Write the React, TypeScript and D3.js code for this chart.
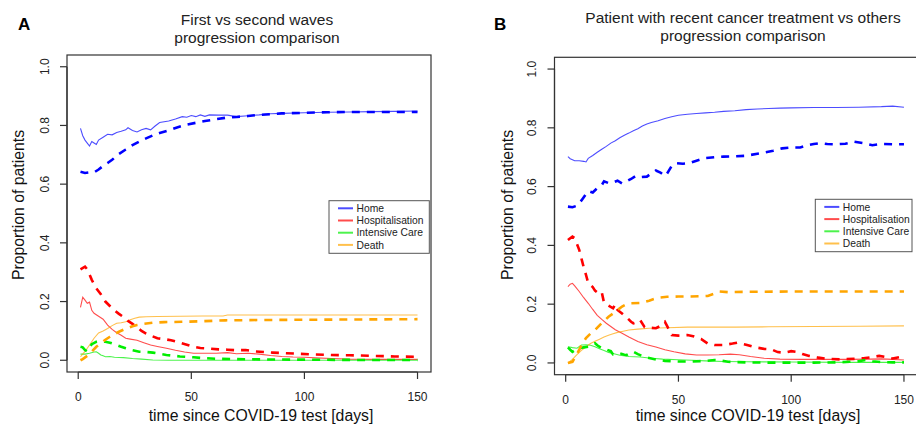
import React from 'react';
import { scaleLinear, line } from 'd3';

type Pt = [number, number];

// ---- data (day, proportion) ----
const xTicks = [0, 50, 100, 150];
const yTicks = [0, 0.2, 0.4, 0.6, 0.8, 1.0];
const legendLabels = ['Home', 'Hospitalisation', 'Intensive Care', 'Death'];
const seriesColors = ['#0000ff', '#ff0000', '#00ee00', '#ffa500'];

// panel A
const aHomeSolid: Pt[] = [[1,0.79],[2,0.765],[3,0.75],[4,0.74],[5,0.73],[6,0.745],[7,0.74],[8,0.735],[9,0.75],[11,0.76],[13,0.77],[15,0.768],[17,0.776],[19,0.78],[21,0.785],[22,0.792],[24,0.783],[26,0.778],[28,0.785],[30,0.79],[32,0.785],[34,0.798],[36,0.81],[40,0.815],[43,0.822],[46,0.83],[48,0.828],[50,0.834],[52,0.83],[54,0.836],[56,0.831],[58,0.836],[62,0.835],[66,0.835],[70,0.83],[75,0.833],[80,0.836],[85,0.84],[90,0.841],[100,0.843],[110,0.845],[120,0.846],[130,0.847],[140,0.848],[150,0.849]];
const aHomeDashed: Pt[] = [[1,0.642],[3,0.638],[5,0.64],[7,0.64],[9,0.65],[11,0.662],[13,0.672],[15,0.683],[18,0.703],[21,0.718],[24,0.733],[27,0.745],[30,0.756],[33,0.766],[36,0.774],[40,0.783],[44,0.794],[48,0.803],[52,0.809],[56,0.815],[60,0.82],[65,0.826],[70,0.829],[75,0.832],[80,0.836],[90,0.841],[100,0.843],[110,0.845],[120,0.846],[135,0.846],[150,0.846]];
const aHospSolid: Pt[] = [[1,0.18],[2,0.215],[3,0.205],[4,0.194],[5,0.198],[6,0.17],[7,0.16],[9,0.15],[11,0.14],[13,0.12],[15,0.105],[17,0.094],[19,0.085],[21,0.075],[23,0.072],[26,0.068],[29,0.06],[32,0.052],[35,0.047],[39,0.041],[43,0.034],[47,0.028],[51,0.024],[56,0.024],[61,0.024],[66,0.026],[70,0.022],[75,0.024],[80,0.021],[85,0.016],[90,0.013],[95,0.011],[100,0.01],[105,0.008],[112,0.006],[120,0.004],[135,0.003],[150,0.003]];
const aHospDashed: Pt[] = [[1,0.31],[3,0.319],[4,0.31],[6,0.274],[8,0.245],[10,0.225],[12,0.2],[14,0.185],[16,0.17],[18,0.158],[20,0.147],[22,0.134],[24,0.124],[26,0.113],[28,0.1],[30,0.091],[32,0.084],[35,0.075],[38,0.072],[41,0.068],[45,0.06],[48,0.053],[51,0.046],[54,0.042],[58,0.04],[62,0.037],[66,0.036],[70,0.034],[74,0.035],[78,0.03],[82,0.028],[86,0.026],[92,0.024],[98,0.022],[104,0.02],[112,0.018],[120,0.017],[130,0.015],[140,0.013],[150,0.012]];
const aIcuSolid: Pt[] = [[1,0.021],[3,0.021],[5,0.024],[7,0.028],[8,0.029],[9,0.024],[10,0.018],[11,0.015],[12,0.012],[14,0.013],[16,0.01],[20,0.009],[24,0.006],[28,0.004],[33,0.001],[40,0],[60,0],[100,0],[150,0]];
const aIcuDashed: Pt[] = [[1,0.046],[2,0.044],[3,0.035],[4,0.03],[5,0.042],[6,0.055],[8,0.063],[10,0.065],[12,0.063],[14,0.06],[17,0.052],[19,0.046],[21,0.041],[24,0.034],[27,0.029],[30,0.028],[33,0.026],[36,0.022],[39,0.018],[45,0.013],[51,0.01],[56,0.007],[61,0.005],[70,0.004],[80,0.003],[100,0.002],[125,0.001],[150,0.001]];
const aDeathSolid: Pt[] = [[1,0.012],[3,0.03],[5,0.052],[7,0.075],[9,0.093],[11,0.1],[13,0.108],[15,0.118],[17,0.126],[19,0.128],[21,0.131],[23,0.138],[25,0.143],[27,0.147],[30,0.148],[35,0.149],[45,0.15],[55,0.151],[64,0.151],[66,0.154],[80,0.154],[100,0.154],[125,0.154],[150,0.154]];
const aDeathDashed: Pt[] = [[1,0],[2,0.004],[4,0.015],[6,0.03],[8,0.046],[10,0.058],[12,0.07],[14,0.08],[16,0.089],[18,0.097],[20,0.104],[22,0.11],[24,0.116],[26,0.12],[29,0.124],[33,0.128],[38,0.13],[46,0.131],[55,0.133],[65,0.136],[80,0.137],[100,0.138],[125,0.139],[150,0.14]];

// panel B
const bHomeSolid: Pt[] = [[1,0.702],[2,0.695],[4,0.688],[6,0.688],[8,0.686],[9,0.684],[10,0.696],[12,0.706],[14,0.717],[16,0.727],[18,0.737],[20,0.748],[22,0.756],[24,0.766],[26,0.775],[28,0.782],[30,0.79],[32,0.797],[34,0.806],[36,0.813],[38,0.818],[41,0.824],[44,0.832],[47,0.838],[50,0.843],[54,0.846],[58,0.849],[62,0.851],[66,0.853],[70,0.856],[75,0.858],[80,0.862],[85,0.864],[90,0.866],[95,0.867],[100,0.868],[110,0.869],[120,0.869],[130,0.87],[140,0.872],[145,0.874],[150,0.87]];
const bHomeDashed: Pt[] = [[1,0.532],[3,0.53],[5,0.535],[7,0.553],[9,0.575],[10,0.585],[12,0.58],[14,0.595],[16,0.605],[17,0.618],[19,0.612],[21,0.614],[23,0.62],[25,0.611],[27,0.618],[29,0.626],[31,0.636],[33,0.632],[36,0.634],[38,0.645],[40,0.655],[42,0.648],[44,0.636],[45,0.645],[47,0.67],[49,0.68],[52,0.678],[55,0.68],[58,0.688],[62,0.697],[66,0.7],[70,0.702],[75,0.703],[80,0.705],[85,0.712],[88,0.716],[92,0.722],[96,0.73],[100,0.733],[104,0.733],[107,0.74],[110,0.745],[113,0.748],[116,0.745],[120,0.744],[124,0.746],[128,0.753],[132,0.748],[136,0.741],[140,0.745],[145,0.744],[150,0.744]];
const bHospSolid: Pt[] = [[1,0.26],[2,0.268],[3,0.271],[4,0.262],[6,0.243],[8,0.222],[10,0.203],[12,0.182],[14,0.162],[16,0.148],[18,0.135],[20,0.124],[22,0.113],[25,0.101],[28,0.088],[32,0.073],[36,0.062],[40,0.054],[44,0.045],[48,0.038],[53,0.031],[58,0.027],[63,0.027],[68,0.028],[73,0.03],[77,0.028],[82,0.022],[88,0.016],[95,0.013],[105,0.012],[115,0.012],[125,0.012],[135,0.013],[140,0.014],[145,0.012],[150,0.01]];
const bHospDashed: Pt[] = [[1,0.418],[3,0.43],[4,0.425],[5,0.405],[6,0.385],[7,0.355],[8,0.325],[9,0.3],[10,0.271],[12,0.258],[13,0.246],[14,0.24],[15,0.235],[16,0.24],[17,0.205],[19,0.195],[21,0.186],[22,0.2],[23,0.18],[25,0.168],[27,0.155],[29,0.14],[30,0.135],[32,0.14],[33,0.146],[35,0.122],[37,0.12],[40,0.118],[42,0.126],[44,0.14],[45,0.125],[47,0.095],[50,0.093],[54,0.095],[57,0.09],[60,0.082],[63,0.066],[66,0.061],[70,0.061],[74,0.066],[76,0.069],[80,0.062],[84,0.053],[88,0.048],[91,0.047],[94,0.037],[97,0.035],[100,0.04],[102,0.038],[105,0.03],[108,0.024],[112,0.018],[116,0.014],[122,0.012],[128,0.014],[132,0.016],[136,0.02],[139,0.024],[142,0.02],[145,0.015],[148,0.02],[150,0.024]];
const bIcuSolid: Pt[] = [[1,0.055],[3,0.052],[5,0.05],[7,0.061],[9,0.062],[11,0.06],[13,0.055],[15,0.048],[17,0.042],[19,0.036],[21,0.032],[24,0.026],[28,0.022],[33,0.02],[38,0.016],[43,0.013],[50,0.011],[56,0.009],[62,0.007],[70,0.005],[80,0.004],[100,0.003],[125,0.002],[150,0.002]];
const bIcuDashed: Pt[] = [[1,0.053],[2,0.045],[3,0.038],[4,0.043],[6,0.05],[8,0.053],[10,0.055],[12,0.064],[13,0.067],[14,0.06],[16,0.05],[18,0.046],[20,0.04],[21,0.029],[23,0.03],[24,0.033],[26,0.028],[27,0.027],[29,0.035],[30,0.038],[32,0.03],[35,0.02],[40,0.012],[44,0.007],[50,0.005],[56,0.005],[62,0.007],[66,0.01],[68,0.009],[72,0.004],[80,0.002],[90,0.001],[100,0.001],[110,0.001],[120,0.002],[126,0.004],[130,0.006],[133,0.01],[136,0.006],[140,0.003],[145,0.002],[150,0.002]];
const bDeathSolid: Pt[] = [[1,0],[3,0.012],[5,0.028],[7,0.043],[9,0.055],[11,0.066],[13,0.074],[15,0.081],[17,0.088],[19,0.094],[21,0.099],[23,0.104],[25,0.107],[28,0.112],[32,0.115],[37,0.118],[45,0.12],[54,0.122],[65,0.122],[75,0.122],[90,0.123],[110,0.124],[130,0.125],[150,0.126]];
const bDeathDashed: Pt[] = [[1,0],[3,0.004],[5,0.03],[7,0.06],[9,0.085],[11,0.1],[13,0.112],[15,0.128],[17,0.143],[19,0.157],[21,0.168],[23,0.18],[25,0.192],[27,0.2],[29,0.203],[33,0.204],[37,0.212],[41,0.222],[45,0.225],[50,0.226],[55,0.226],[60,0.227],[63,0.228],[66,0.236],[68,0.243],[72,0.241],[80,0.242],[100,0.243],[125,0.243],[150,0.243]];

const FONT = "'Liberation Sans', Arial, Helvetica, sans-serif";

type PanelProps = {
  letter: string;
  letterX: number;
  title: string[];
  titleX: number;
  titleY: number[];
  box: { left: number; top: number; right: number; bottom: number };
  ylabX: number;
  tickLabX: number;
  legend: { x: number; y: number; w: number; h: number };
  solid: Pt[][];
  dashed: Pt[][];
  xlabX: number;
};

function Panel(p: PanelProps) {
  const { box } = p;
  const x = scaleLinear().domain([1 - 149 * 0.04, 150 + 149 * 0.04]).range([box.left, box.right]);
  const y = scaleLinear().domain([-0.04, 1.04]).range([box.bottom, box.top]);
  const path = line<Pt>().x(d => x(d[0])).y(d => y(d[1]));
  const tick = 7;
  const ink = '#333';

  return (
    <g fontFamily={FONT}>
      <text x={p.letterX} y={30} fontSize={17} fontWeight="bold" fill="#000">{p.letter}</text>
      {p.title.map((t, i) => (
        <text key={i} x={p.titleX} y={p.titleY[i]} fontSize={15.5} textAnchor="middle" fill="#222">{t}</text>
      ))}

      {/* data */}
      {p.solid.map((s, i) => (
        <path key={'s' + i} d={path(s) || ''} fill="none" stroke={seriesColors[i]} strokeOpacity={0.7} strokeWidth={1.1} />
      ))}
      {p.dashed.map((s, i) => (
        <path key={'d' + i} d={path(s) || ''} fill="none" stroke={seriesColors[i]} strokeWidth={2.6} strokeDasharray="8,7" />
      ))}

      {/* box */}
      <rect x={box.left} y={box.top} width={box.right - box.left} height={box.bottom - box.top} fill="none" stroke={ink} strokeWidth={1.2} />

      {/* x axis */}
      <line x1={x(0)} x2={x(150)} y1={box.bottom} y2={box.bottom} stroke={ink} strokeWidth={1.2} />
      {xTicks.map(t => (
        <g key={t}>
          <line x1={x(t)} x2={x(t)} y1={box.bottom} y2={box.bottom + tick} stroke={ink} strokeWidth={1.2} />
          <text x={x(t)} y={box.bottom + 29} fontSize={12} textAnchor="middle" fill="#222">{t}</text>
        </g>
      ))}
      <text x={p.xlabX} y={421} fontSize={15.8} textAnchor="middle" fill="#111">time since COVID-19 test [days]</text>

      {/* y axis */}
      <line x1={box.left} x2={box.left} y1={y(0)} y2={y(1)} stroke={ink} strokeWidth={1.2} />
      {yTicks.map(t => (
        <g key={t}>
          <line x1={box.left - tick} x2={box.left} y1={y(t)} y2={y(t)} stroke={ink} strokeWidth={1.2} />
          <text transform={`translate(${p.tickLabX},${y(t)}) rotate(-90)`} dy="0.35em" fontSize={12} textAnchor="middle" fill="#222">{t.toFixed(1)}</text>
        </g>
      ))}
      <text transform={`translate(${p.ylabX},205) rotate(-90)`} dy="0.35em" fontSize={15.8} textAnchor="middle" fill="#111">Proportion of patients</text>

      {/* legend */}
      <rect x={p.legend.x} y={p.legend.y} width={p.legend.w} height={p.legend.h} fill="#fff" stroke="#555" strokeWidth={1} />
      {legendLabels.map((l, i) => {
        const ly = p.legend.y + 7.6 + i * 12.2;
        return (
          <g key={l}>
            <line x1={p.legend.x + 9} x2={p.legend.x + 24} y1={ly} y2={ly} stroke={seriesColors[i]} strokeOpacity={0.7} strokeWidth={2} />
            <text x={p.legend.x + 27.5} y={ly} dy="0.35em" fontSize={10.3} fill="#222">{l}</text>
          </g>
        );
      })}
    </g>
  );
}

export default function App() {
  return (
    <svg width={916} height={430} style={{ position: 'absolute', left: 0, top: 0, background: '#fff' }}>
      <rect width={916} height={430} fill="#fff" />
      <Panel
        letter="A"
        letterX={18}
        title={['First vs second waves', 'progression comparison']}
        titleX={257}
        titleY={[25, 43]}
        box={{ left: 67, top: 55, right: 431, bottom: 372 }}
        ylabX={18}
        tickLabX={45}
        legend={{ x: 329, y: 200.7, w: 100.3, h: 52.6 }}
        solid={[aHomeSolid, aHospSolid, aIcuSolid, aDeathSolid]}
        dashed={[aHomeDashed, aHospDashed, aIcuDashed, aDeathDashed]}
        xlabX={261}
      />
      <Panel
        letter="B"
        letterX={494}
        title={['Patient with recent cancer treatment vs others', 'progression comparison']}
        titleX={743}
        titleY={[23, 41]}
        box={{ left: 554.5, top: 57.3, right: 917.4, bottom: 374.7 }}
        ylabX={507}
        tickLabX={531.5}
        legend={{ x: 815.3, y: 199.3, w: 96.7, h: 52.4 }}
        solid={[bHomeSolid, bHospSolid, bIcuSolid, bDeathSolid]}
        dashed={[bHomeDashed, bHospDashed, bIcuDashed, bDeathDashed]}
        xlabX={748}
      />
    </svg>
  );
}
